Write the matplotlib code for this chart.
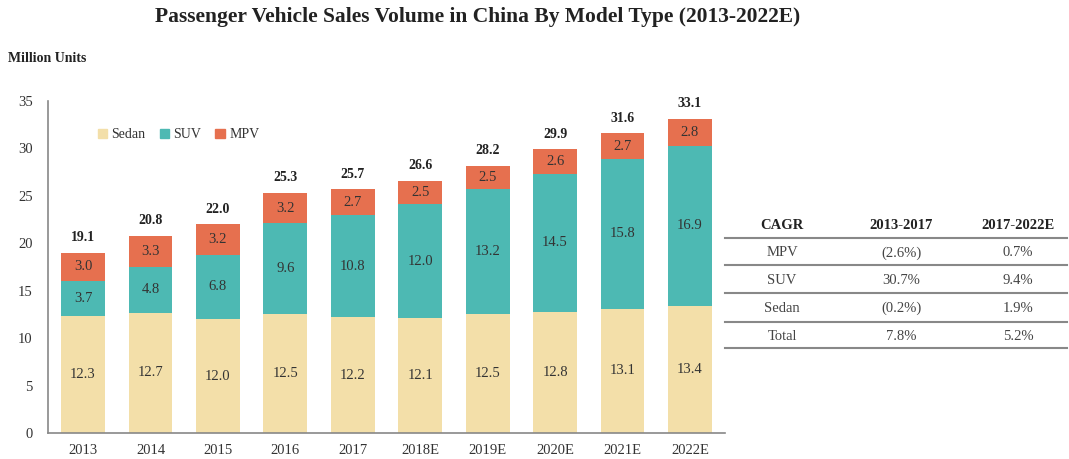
import matplotlib.pyplot as plt
from matplotlib.lines import Line2D
from matplotlib.patches import Patch

plt.rcParams['font.family'] = ['Liberation Serif', 'DejaVu Serif']

years = ['2013', '2014', '2015', '2016', '2017', '2018E', '2019E', '2020E', '2021E', '2022E']
sedan = [12.3, 12.7, 12.0, 12.5, 12.2, 12.1, 12.5, 12.8, 13.1, 13.4]
suv = [3.7, 4.8, 6.8, 9.6, 10.8, 12.0, 13.2, 14.5, 15.8, 16.9]
mpv = [3.0, 3.3, 3.2, 3.2, 2.7, 2.5, 2.5, 2.6, 2.7, 2.8]
totals = [19.1, 20.8, 22.0, 25.3, 25.7, 26.6, 28.2, 29.9, 31.6, 33.1]

cagr_head = ['CAGR', '2013-2017', '2017-2022E']
cagr_rows = [['MPV', '(2.6%)', '0.7%'],
             ['SUV', '30.7%', '9.4%'],
             ['Sedan', '(0.2%)', '1.9%'],
             ['Total', '7.8%', '5.2%']]

C_SEDAN = '#F3DFA9'
C_SUV = '#4DB9B3'
C_MPV = '#E6704F'

W, H = 1069, 459
fig = plt.figure(figsize=(W / 100, H / 100), dpi=100)
ax = fig.add_axes([48 / W, (H - 433) / H, (725 - 48) / W, (433 - 101) / H])

x = range(len(years))
bw = 0.65
ax.bar(x, sedan, bw, color=C_SEDAN, label='Sedan')
ax.bar(x, suv, bw, bottom=sedan, color=C_SUV, label='SUV')
bot2 = [a + b for a, b in zip(sedan, suv)]
ax.bar(x, mpv, bw, bottom=bot2, color=C_MPV, label='MPV')

for i in x:
    ax.text(i, sedan[i] / 2, f'{sedan[i]:.1f}', ha='center', va='center', fontsize=10.5, color='#333333')
    ax.text(i, sedan[i] + suv[i] / 2, f'{suv[i]:.1f}', ha='center', va='center', fontsize=10.5, color='#333333')
    ax.text(i, bot2[i] + mpv[i] / 2, f'{mpv[i]:.1f}', ha='center', va='center', fontsize=10.5, color='#333333')
    ax.text(i, bot2[i] + mpv[i] + 0.9, f'{totals[i]:.1f}', ha='center', va='bottom',
            fontsize=10, fontweight='bold', color='#222222')

ax.set_xlim(-0.52, len(years) - 0.48)
ax.set_ylim(0, 35)
ax.set_yticks(range(0, 36, 5))
ax.set_xticks(list(x))
ax.set_xticklabels(years)
ax.tick_params(length=0, labelsize=10.5, colors='#333333')
ax.tick_params(axis='y', pad=11)
ax.tick_params(axis='x', pad=8)
for s in ['top', 'right']:
    ax.spines[s].set_visible(False)
for s in ['left', 'bottom']:
    ax.spines[s].set_color('#888888')
    ax.spines[s].set_linewidth(1.2)

handles = [Patch(color=C_SEDAN), Patch(color=C_SUV), Patch(color=C_MPV)]
ax.legend(handles, ['Sedan', 'SUV', 'MPV'], loc='upper left', bbox_to_anchor=(0.055, 0.955),
          ncol=3, frameon=False, fontsize=10, handlelength=0.7, handleheight=0.7,
          handletextpad=0.3, columnspacing=1.0, labelcolor='#333333')

fig.text(478 / W, 1 - 17 / H, 'Passenger Vehicle Sales Volume in China By Model Type (2013-2022E)',
         ha='center', va='center', fontsize=15.5, fontweight='bold', color='#222222')
fig.text(8 / W, 1 - 58 / H, 'Million Units', ha='left', va='center', fontsize=10,
         fontweight='bold', color='#222222')

# CAGR table
col_x = [782, 901, 1018]
row_y = [225, 253, 280, 308, 337]
for j, t in enumerate(cagr_head):
    fig.text(col_x[j] / W, 1 - row_y[0] / H, t, ha='center', va='center', fontsize=10.5,
             fontweight='bold', color='#222222')
for r, row in enumerate(cagr_rows):
    for j, t in enumerate(row):
        fig.text(col_x[j] / W, 1 - row_y[r + 1] / H, t, ha='center', va='center', fontsize=10.5,
                 color='#444444')
for ly in [238, 265, 293, 322, 348]:
    fig.add_artist(Line2D([725 / W, 1067 / W], [1 - ly / H, 1 - ly / H], color='#888888', lw=1.5))

fig.savefig('out.png', dpi=100)
